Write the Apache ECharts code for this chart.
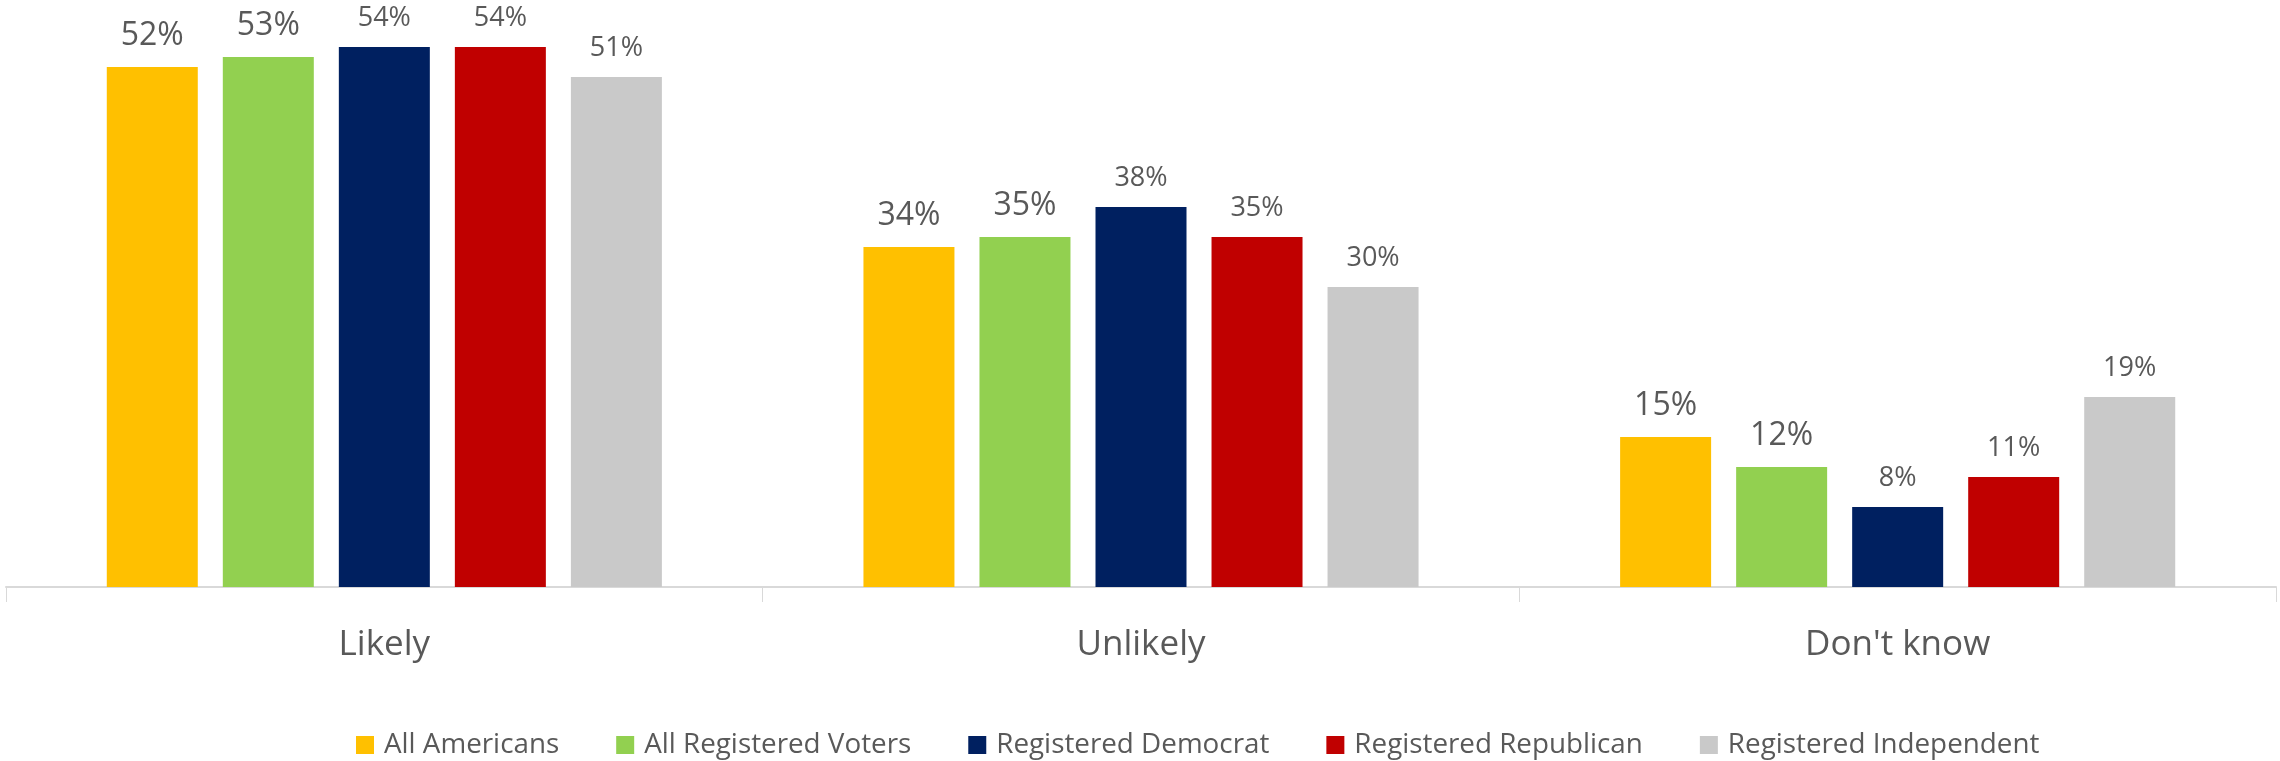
<!DOCTYPE html>
<html>
<head>
<meta charset="utf-8">
<script src="https://cdn.jsdelivr.net/npm/echarts@6/dist/echarts.min.js"></script>
<style>
html,body{margin:0;padding:0;background:#fff;}
#chart{width:2280px;height:761px;}
</style>
</head>
<body>
<div id="chart"></div>
<script>
const categories = ["Likely", "Unlikely", "Don't know"];
const seriesNames = ["All Americans", "All Registered Voters", "Registered Democrat", "Registered Republican", "Registered Independent"];
const allAmericans = [52, 34, 15];
const allRegisteredVoters = [53, 35, 12];
const registeredDemocrat = [54, 38, 8];
const registeredRepublican = [54, 35, 11];
const registeredIndependent = [51, 30, 19];
const seriesColors = ["#FFC000", "#92D050", "#002060", "#C00000", "#C9C9C9"];
const labelSizes = [32, 32, 27, 27, 27];

const values = [allAmericans, allRegisteredVoters, registeredDemocrat, registeredRepublican, registeredIndependent];
const FONT = "'Open Sans', 'Noto Sans', sans-serif";

const chart = echarts.init(document.getElementById('chart'), null, {renderer: 'canvas'});
chart.setOption({
  backgroundColor: '#ffffff',
  animation: false,
  textStyle: {fontFamily: FONT},
  grid: {left: 6, right: 4, top: 37, bottom: 174, containLabel: false},
  legend: {
    data: seriesNames,
    left: 356,
    top: 731,
    padding: 0,
    itemWidth: 18,
    itemHeight: 18,
    itemGap: 57,
    icon: 'rect',
    textStyle: {fontFamily: FONT, fontSize: 27.8, lineHeight: 28, color: '#595959', padding: [0,0,0,5]}
  },
  xAxis: {
    type: 'category',
    data: categories,
    axisLine: {show: true, lineStyle: {color: '#D9D9D9', width: 2}},
    axisTick: {show: true, length: 15, lineStyle: {color: '#D9D9D9', width: 1}},
    axisLabel: {fontFamily: FONT, fontSize: 35, lineHeight: 35, color: '#595959', margin: 41}
  },
  yAxis: {
    type: 'value', min: 0, max: 55, show: false,
    splitLine: {show: false}
  },
  series: seriesNames.map((name, i) => ({
    name: name,
    type: 'bar',
    data: values[i],
    barWidth: 91,
    barGap: '27.5%',
    itemStyle: {color: seriesColors[i]},
    label: {
      show: true,
      position: 'top',
      distance: 15,
      formatter: '{c}%',
      fontFamily: FONT,
      fontSize: labelSizes[i],
      color: '#595959'
    }
  }))
});
</script>
</body>
</html>
